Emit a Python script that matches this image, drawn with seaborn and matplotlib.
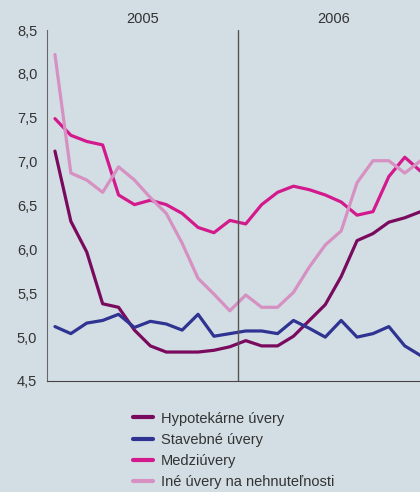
import matplotlib
matplotlib.use("Agg")
import matplotlib.pyplot as plt
import seaborn as sns
import pandas as pd
from matplotlib.ticker import FuncFormatter

# monthly values, Jan 2005 - Dec 2006
months = list(range(24))
years = ["2005", "2006"]
hypotekarne = [7.12, 6.32, 5.97, 5.38, 5.34, 5.08, 4.90, 4.83, 4.83, 4.83, 4.85, 4.89,
               4.96, 4.90, 4.90, 5.01, 5.19, 5.37, 5.69, 6.10, 6.18, 6.31, 6.36, 6.43]
stavebne = [5.12, 5.04, 5.16, 5.19, 5.26, 5.11, 5.18, 5.15, 5.08, 5.26, 5.01, 5.04,
            5.07, 5.07, 5.04, 5.19, 5.10, 5.00, 5.19, 5.00, 5.04, 5.12, 4.90, 4.79]
medziuvery = [7.49, 7.30, 7.23, 7.19, 6.62, 6.51, 6.56, 6.51, 6.41, 6.25, 6.19, 6.33,
              6.29, 6.51, 6.65, 6.72, 6.68, 6.62, 6.54, 6.39, 6.43, 6.83, 7.05, 6.89]
ine = [8.22, 6.87, 6.79, 6.65, 6.94, 6.79, 6.59, 6.41, 6.07, 5.67, 5.49, 5.30,
       5.48, 5.34, 5.34, 5.51, 5.80, 6.05, 6.21, 6.76, 7.01, 7.01, 6.87, 7.01]
labels = ["Hypotekárne úvery", "Stavebné úvery", "Medziúvery", "Iné úvery na nehnuteľnosti"]
colors = ["#7a0a5e", "#2f3391", "#d31a8d", "#d690c2"]

df = pd.concat([
    pd.DataFrame({"mesiac": months, "sadzba": vals, "typ": lab})
    for vals, lab in zip([hypotekarne, stavebne, medziuvery, ine], labels)
])

bg = "#d3dee4"
sns.set_style("white")
plt.rcParams["font.family"] = ["Liberation Sans", "DejaVu Sans"]
fs = 10.5

fig = plt.figure(figsize=(4.2, 4.92), dpi=100, facecolor=bg)
ax = fig.add_axes([47 / 420, 111 / 492, 381.6 / 420, 351 / 492], facecolor=bg)

sns.lineplot(data=df, x="mesiac", y="sadzba", hue="typ", hue_order=labels,
             palette=colors, linewidth=2.3, ax=ax, legend=True)

ax.set_xlim(-0.5, 23.5)
ax.set_ylim(4.5, 8.5)
ax.set_yticks([4.5, 5.0, 5.5, 6.0, 6.5, 7.0, 7.5, 8.0, 8.5])
ax.yaxis.set_major_formatter(FuncFormatter(lambda v, p: f"{v:.1f}".replace(".", ",")))
ax.set_xticks([])
ax.set_xlabel("")
ax.set_ylabel("")
ax.tick_params(axis="y", length=5, width=1, color="#666666", labelsize=fs,
               labelcolor="#333333", pad=2)
for s in ["top", "right"]:
    ax.spines[s].set_visible(False)
ax.spines["left"].set_color("#666666")
ax.spines["bottom"].set_color("#444444")
ax.axvline(11.5, color="#555555", linewidth=1)

for i, yr in enumerate(years):
    ax.text(5.5 + 12 * i, 1.03, yr, transform=ax.get_xaxis_transform(),
            ha="center", va="center", fontsize=fs, color="#333333")

leg = ax.legend(loc="upper left", bbox_to_anchor=(133 / 420, 1 - 411.5 / 492),
                bbox_transform=fig.transFigure, frameon=False, fontsize=fs,
                handlelength=1.4, handletextpad=0.5, labelspacing=0.5,
                borderpad=0, borderaxespad=0)
for h in leg.get_lines():
    h.set_linewidth(3)
for t in leg.get_texts():
    t.set_color("#333333")

fig.savefig("out.png", dpi=100, facecolor=bg)
